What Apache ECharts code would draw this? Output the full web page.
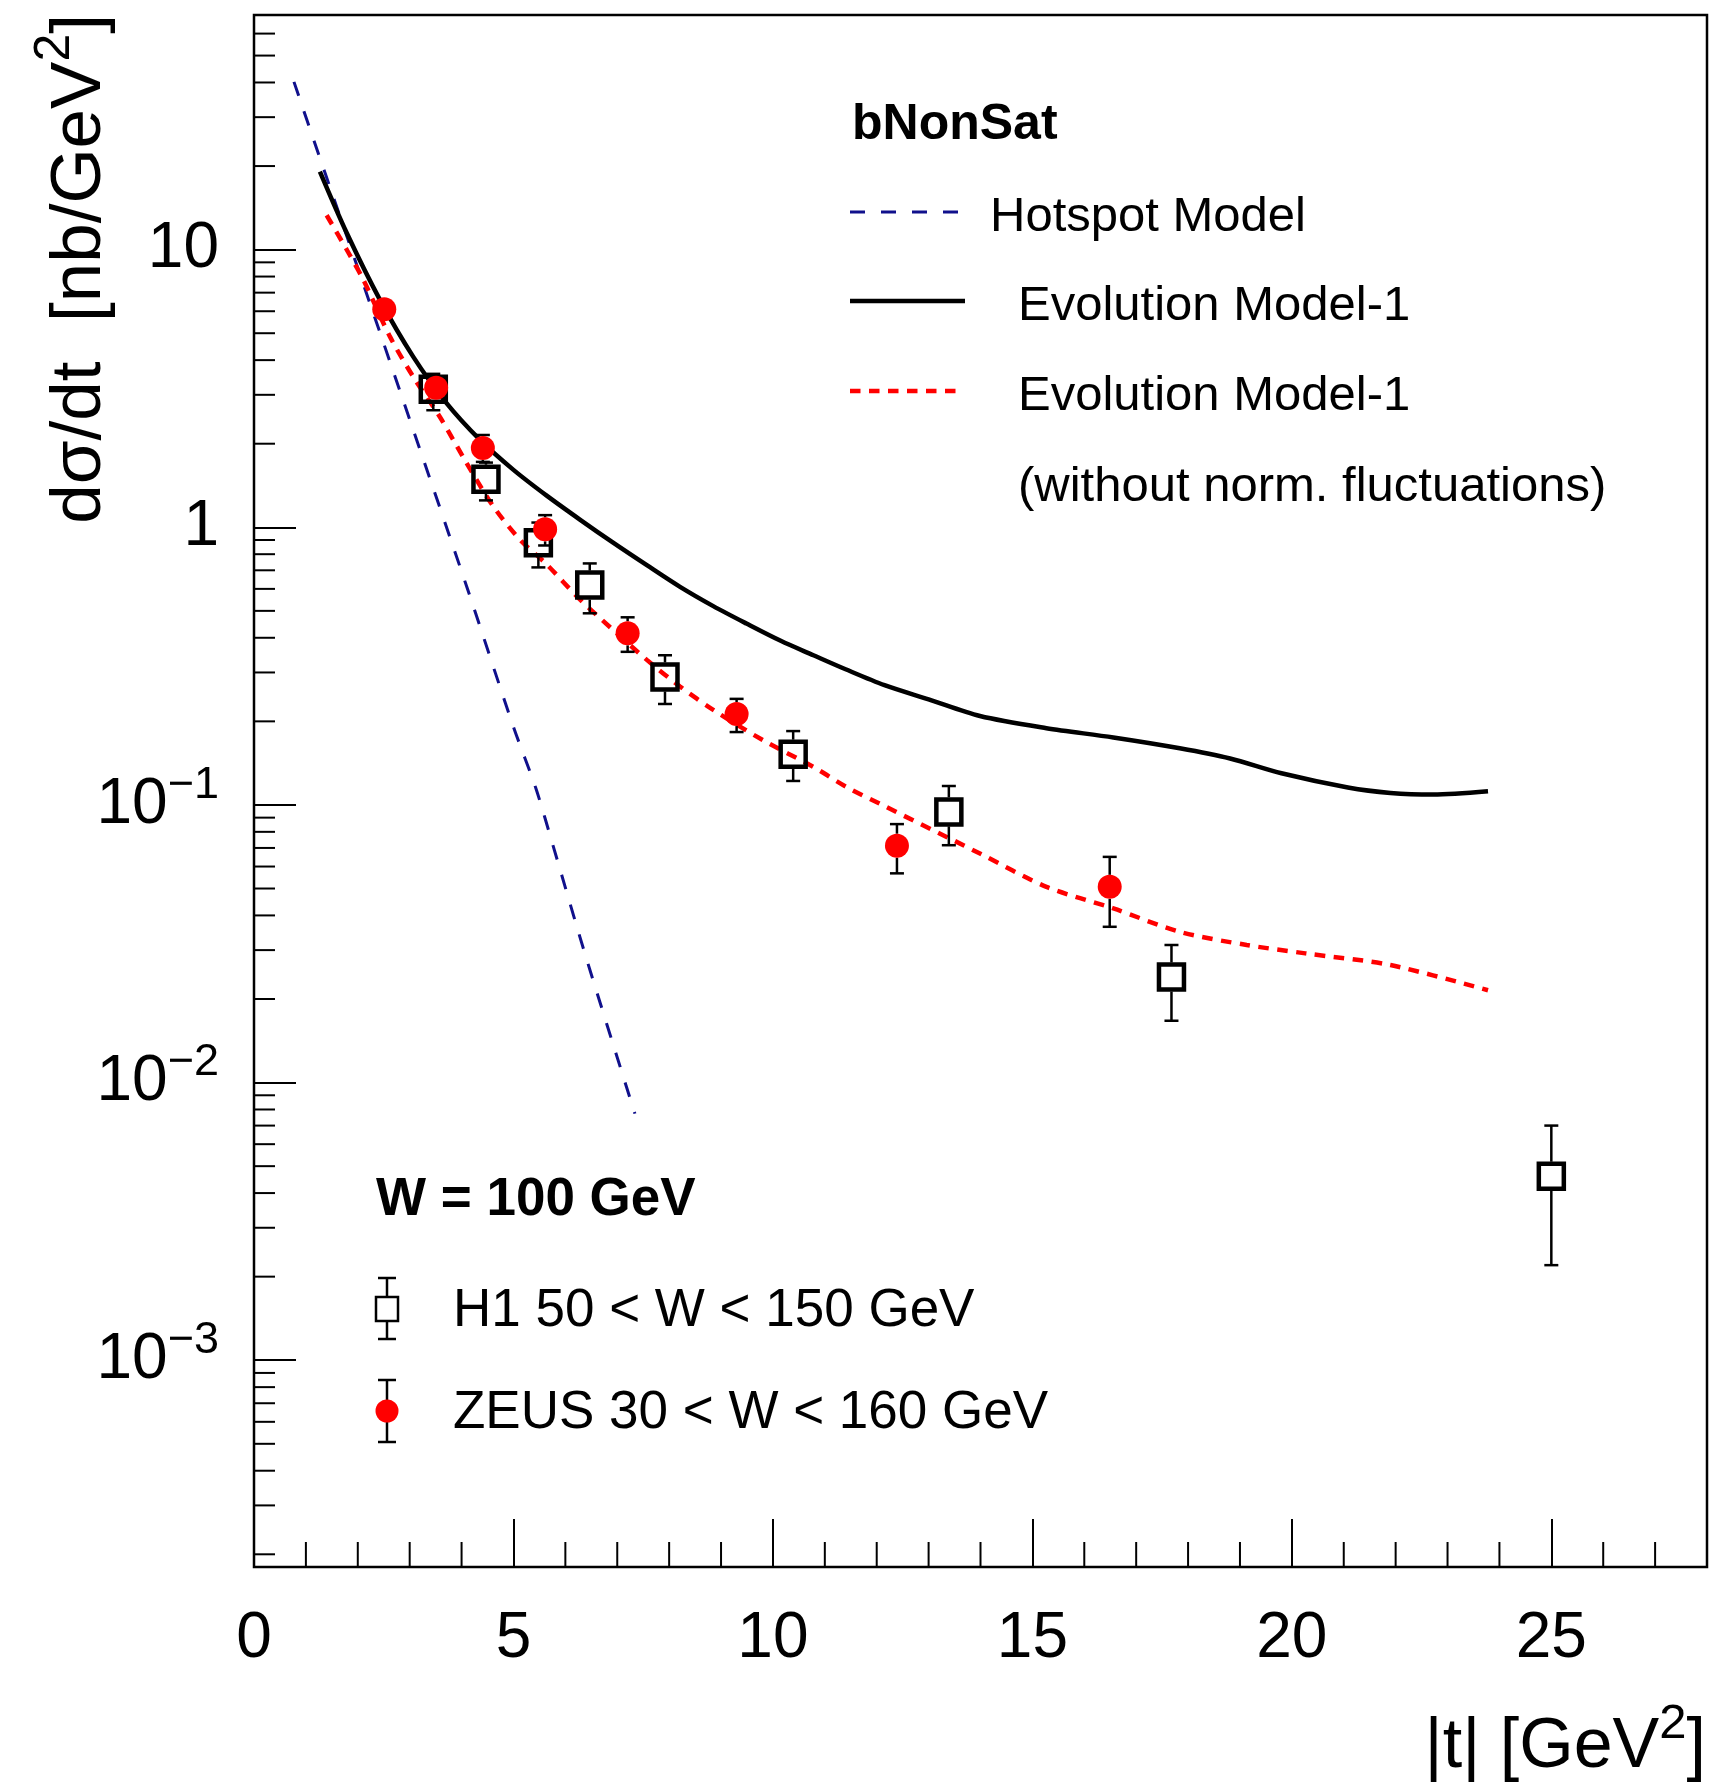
<!DOCTYPE html>
<html>
<head>
<meta charset="utf-8">
<title>dσ/dt vs |t| — bNonSat, W = 100 GeV</title>
<script src="https://cdn.jsdelivr.net/npm/echarts@6/dist/echarts.min.js"></script>
<style>
  html, body { margin: 0; padding: 0; background: #fff; }
  #chart { width: 1712px; height: 1787px; }
</style>
</head>
<body>
<div id="chart"></div>
<script>
const FONT = '"Liberation Sans", Arial, Helvetica, sans-serif';

// ---- Model curves: |t| [GeV^2] and dσ/dt [nb/GeV^2] ----
const hotspotT = [0.77, 1.24, 2.235, 3.07, 4.10, 5.00, 5.43, 5.77, 6.39, 7.34];
const hotspotV = [40.2, 22.2, 6.40, 2.24, 0.611, 0.191, 0.115, 0.0706, 0.0286, 0.00773];

const evoT = [1.27, 1.79, 2.43, 3.07, 3.71, 4.36, 5.00, 5.64, 6.28, 6.92, 7.57, 8.21, 8.85, 9.49,
              10.15, 10.78, 11.40, 12.15, 13.00, 13.99, 15.27, 16.56, 17.84, 18.81, 19.80, 21.08,
              21.90, 22.72, 23.78];
const evoV = [19.1, 11.45, 6.58, 4.11, 2.80, 2.06, 1.61, 1.30, 1.066, 0.88, 0.73, 0.61, 0.52, 0.45,
              0.39, 0.346, 0.308, 0.27, 0.24, 0.209, 0.189, 0.175, 0.160, 0.147, 0.130, 0.1156,
              0.1105, 0.109, 0.112];

const evoNoFlucT = [1.40, 1.79, 2.11, 2.62, 3.07, 3.58, 4.10, 4.61, 5.13, 5.64, 6.28, 6.92, 7.57,
                    8.21, 8.85, 9.81, 10.78, 11.42, 12.06, 12.70, 13.39, 13.99, 15.27, 16.56, 17.84,
                    19.13, 20.26, 21.90, 23.78];
const evoNoFlucV = [13.3, 9.97, 7.77, 4.86, 3.48, 2.50, 1.70, 1.19, 0.90, 0.735, 0.55, 0.427, 0.333,
                    0.267, 0.220, 0.171, 0.137, 0.116, 0.101, 0.088, 0.076, 0.0668, 0.0507, 0.0424,
                    0.0349, 0.0313, 0.0292, 0.0265, 0.0215];

// ---- Measurements ----
const h1T  = [3.455, 4.47, 5.48, 6.47, 7.92, 10.39, 13.39, 17.68, 25.0];
const h1V  = [3.14, 1.49, 0.88, 0.619, 0.289, 0.1524, 0.0944, 0.0240, 0.0046];
const h1Lo = [2.64, 1.25, 0.717, 0.49, 0.231, 0.122, 0.0716, 0.0167, 0.0022];
const h1Hi = [3.57, 1.71, 1.04, 0.741, 0.346, 0.1845, 0.117, 0.0313, 0.0070];

const zeusT  = [2.51, 3.51, 4.41, 5.61, 7.20, 9.30, 12.39, 16.49];
const zeusV  = [6.1, 3.18, 1.93, 0.983, 0.415, 0.2124, 0.0713, 0.0507];
const zeusLo = [5.7, 2.98, 1.72, 0.86, 0.356, 0.183, 0.0567, 0.0364];
const zeusHi = [6.5, 3.38, 2.15, 1.106, 0.474, 0.241, 0.0853, 0.065];

// ---- Axis ticks ----
const xMajorLabels = [0, 5, 10, 15, 20, 25];
const xMinorTicks = [1, 2, 3, 4, 6, 7, 8, 9, 11, 12, 13, 14, 16, 17, 18, 19, 21, 22, 23, 24, 26, 27];
const yMinorTicks = [
  2e-4, 3e-4, 4e-4, 5e-4, 6e-4, 7e-4, 8e-4, 9e-4,
  2e-3, 3e-3, 4e-3, 5e-3, 6e-3, 7e-3, 8e-3, 9e-3,
  2e-2, 3e-2, 4e-2, 5e-2, 6e-2, 7e-2, 8e-2, 9e-2,
  0.2, 0.3, 0.4, 0.5, 0.6, 0.7, 0.8, 0.9,
  2, 3, 4, 5, 6, 7, 8, 9,
  20, 30, 40, 50, 60
];

const pairs = (xs, ys) => xs.map((x, i) => [x, ys[i]]);

function errorBars(ts, vs, los, his, half, cap) {
  return {
    type: 'custom',
    silent: true,
    z: 4,
    data: ts.map((t, i) => [t, vs[i], los[i], his[i]]),
    encode: { x: 0, y: 1 },
    renderItem: (params, api) => {
      const t = api.value(0);
      const c = api.coord([t, api.value(1)]);
      const yLo = api.coord([t, api.value(2)])[1];
      const yHi = api.coord([t, api.value(3)])[1];
      const children = [];
      const seg = (x1, y1, x2, y2) => children.push({
        type: 'line', shape: { x1, y1, x2, y2 },
        style: { stroke: '#000', lineWidth: 2.5 }
      });
      if (yHi < c[1] - half) {
        seg(c[0], yHi, c[0], c[1] - half);
        seg(c[0] - cap, yHi, c[0] + cap, yHi);
      }
      if (yLo > c[1] + half) {
        seg(c[0], c[1] + half, c[0], yLo);
        seg(c[0] - cap, yLo, c[0] + cap, yLo);
      }
      return { type: 'group', children };
    }
  };
}

const legendText = (x, y, text, size, bold) => ({
  type: 'text', x, y, silent: true,
  style: { text, fontSize: size, fontWeight: bold ? 'bold' : 'normal', fontFamily: FONT,
           fill: '#000', align: 'left', verticalAlign: 'middle' }
});
const legendLine = (x1, y1, x2, y2, stroke, lineWidth, lineDash) => ({
  type: 'line', silent: true, shape: { x1, y1, x2, y2 },
  style: { stroke, lineWidth, lineDash: lineDash || null }
});

const chart = echarts.init(document.getElementById('chart'));

const option = {
  animation: false,
  backgroundColor: '#fff',
  grid: {
    left: 254, right: 5, top: 15, bottom: 220,
    show: true, borderColor: '#000', borderWidth: 2.5, backgroundColor: 'transparent'
  },
  xAxis: {
    type: 'value', min: 0, max: 28, interval: 5,
    axisLine: { show: false },
    splitLine: { show: false },
    axisTick: { inside: true, length: 48, lineStyle: { color: '#000', width: 2 } },
    axisLabel: {
      fontSize: 64, fontFamily: FONT, color: '#000', margin: 40,
      showMaxLabel: false,
      formatter: v => (xMajorLabels.indexOf(v) >= 0 ? String(v) : '')
    }
  },
  yAxis: {
    type: 'log', logBase: 10, min: 1.8e-4, max: 70,
    axisLine: { show: false },
    splitLine: { show: false },
    axisTick: { inside: true, length: 42, lineStyle: { color: '#000', width: 2 } },
    axisLabel: {
      showMinLabel: false, showMaxLabel: false, margin: 35, color: '#000',
      formatter: v => {
        const e = Math.round(Math.log10(v));
        if (e === 1) return '{b|10}';
        if (e === 0) return '{b|1}';
        return '{b|10}{s|\u2212' + (-e) + '}';
      },
      rich: {
        b: { fontSize: 64, fontFamily: FONT, color: '#000', lineHeight: 84 },
        s: { fontSize: 45, fontFamily: FONT, color: '#000', lineHeight: 45, verticalAlign: 'top' }
      }
    }
  },
  series: [
    {
      name: 'Hotspot Model', type: 'line', showSymbol: false, smooth: 0.3, z: 2,
      data: pairs(hotspotT, hotspotV),
      lineStyle: { color: '#10108c', width: 3, type: [15, 16] }
    },
    {
      name: 'Evolution Model-1', type: 'line', showSymbol: false, smooth: 0.3, z: 2,
      data: pairs(evoT, evoV),
      lineStyle: { color: '#000', width: 4.5 }
    },
    {
      name: 'Evolution Model-1 (without norm. fluctuations)', type: 'line', showSymbol: false,
      smooth: 0.3, z: 2,
      data: pairs(evoNoFlucT, evoNoFlucV),
      lineStyle: { color: '#ff0000', width: 4.5, type: [10.5, 8.5] }
    },
    // minor ticks on the y (log) axis at 2..9 × 10^n
    {
      type: 'custom', silent: true, z: 3,
      data: yMinorTicks.map(v => [0, v]),
      renderItem: (params, api) => {
        const y = api.coord([0, api.value(1)])[1];
        const cs = params.coordSys;
        return { type: 'line', shape: { x1: cs.x, y1: y, x2: cs.x + 21, y2: y },
                 style: { stroke: '#000', lineWidth: 2 } };
      }
    },
    // minor ticks on the x axis every 1 GeV^2
    {
      type: 'custom', silent: true, z: 3,
      data: xMinorTicks.map(t => [t, 1]),
      renderItem: (params, api) => {
        const x = api.coord([api.value(0), 1])[0];
        const cs = params.coordSys;
        const yb = cs.y + cs.height;
        return { type: 'line', shape: { x1: x, y1: yb, x2: x, y2: yb - 25 },
                 style: { stroke: '#000', lineWidth: 2 } };
      }
    },
    errorBars(h1T, h1V, h1Lo, h1Hi, 14.5, 7),
    {
      name: 'H1 50 < W < 150 GeV', type: 'scatter', z: 5,
      symbol: 'rect', symbolSize: 25,
      data: pairs(h1T, h1V),
      itemStyle: { color: 'rgba(0,0,0,0)', borderColor: '#000', borderWidth: 4.5, opacity: 1 }
    },
    errorBars(zeusT, zeusV, zeusLo, zeusHi, 12, 7),
    {
      name: 'ZEUS 30 < W < 160 GeV', type: 'scatter', z: 6,
      symbol: 'circle', symbolSize: 24,
      data: pairs(zeusT, zeusV),
      itemStyle: { color: '#ff0000', opacity: 1 }
    }
  ],
  graphic: [
    // axis titles
    {
      type: 'text', x: 80, y: 14, rotation: Math.PI / 2, silent: true,
      style: {
        text: '{m|d\u03c3/dt  [nb/GeV}{s|2}{m|]}',
        align: 'right', verticalAlign: 'middle', fill: '#000',
        rich: {
          m: { fontSize: 71, fontFamily: FONT, fill: '#000', lineHeight: 100 },
          s: { fontSize: 50, fontFamily: FONT, fill: '#000', lineHeight: 50, verticalAlign: 'top' }
        }
      }
    },
    {
      type: 'text', x: 1706, y: 1748, silent: true,
      style: {
        text: '{m||t| [GeV}{s|2}{m|]}',
        align: 'right', verticalAlign: 'middle', fill: '#000',
        rich: {
          m: { fontSize: 70, fontFamily: FONT, fill: '#000', lineHeight: 96 },
          s: { fontSize: 49, fontFamily: FONT, fill: '#000', lineHeight: 49, verticalAlign: 'top' }
        }
      }
    },
    // model legend
    legendText(852, 125, 'bNonSat', 50, true),
    legendLine(850, 212, 960, 212, '#10108c', 3, [15, 16]),
    legendText(990, 217, 'Hotspot Model', 49),
    legendLine(850, 301, 965, 301, '#000', 4.5),
    legendText(1018, 306, 'Evolution Model-1', 49),
    legendLine(850, 391, 957, 391, '#ff0000', 4.5, [10.5, 8.5]),
    legendText(1018, 396, 'Evolution Model-1', 49),
    legendText(1018, 487, '(without norm. fluctuations)', 49),
    // data legend
    legendText(376, 1200, 'W = 100 GeV', 53, true),
    legendLine(387, 1278, 387, 1297, '#000', 2.5),
    legendLine(387, 1321, 387, 1339, '#000', 2.5),
    legendLine(378, 1278, 396, 1278, '#000', 2.5),
    legendLine(378, 1339, 396, 1339, '#000', 2.5),
    { type: 'rect', silent: true, shape: { x: 376, y: 1297, width: 22, height: 24 },
      style: { fill: 'none', stroke: '#000', lineWidth: 2.5 } },
    legendText(453, 1311, 'H1 50 < W < 150 GeV', 53),
    legendLine(387, 1380, 387, 1442, '#000', 2.5),
    legendLine(378, 1380, 396, 1380, '#000', 2.5),
    legendLine(378, 1442, 396, 1442, '#000', 2.5),
    { type: 'circle', silent: true, shape: { cx: 387, cy: 1411, r: 11.5 },
      style: { fill: '#ff0000' } },
    legendText(453, 1413, 'ZEUS 30 < W < 160 GeV', 53)
  ]
};

chart.setOption(option);
</script>
</body>
</html>
